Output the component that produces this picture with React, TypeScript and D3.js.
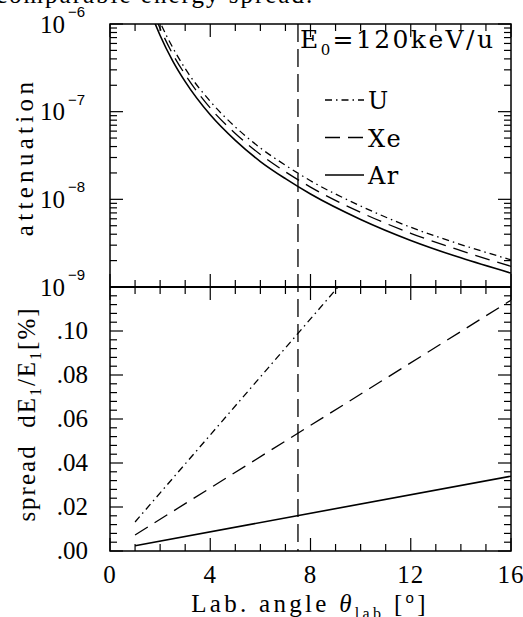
import React from "react";
import * as d3 from "d3";

// attenuation vs lab angle (upper panel, log axis)
const angleTop = [1.8, 2, 2.5, 3, 4, 5, 6, 7, 8, 10, 12, 14, 16];
const attenU = [1.43e-6, 1.05e-6, 5.4e-7, 3.1e-7, 1.31e-7, 6.7e-8, 3.85e-8, 2.45e-8, 1.63e-8, 8.4e-9, 4.8e-9, 3.05e-9, 2.04e-9];
const attenXe = [1.21e-6, 8.9e-7, 4.55e-7, 2.65e-7, 1.1e-7, 5.65e-8, 3.25e-8, 2.06e-8, 1.38e-8, 7.1e-9, 4.1e-9, 2.6e-9, 1.72e-9];
const attenAr = [1.01e-6, 7.4e-7, 3.8e-7, 2.2e-7, 9.2e-8, 4.7e-8, 2.7e-8, 1.72e-8, 1.15e-8, 5.9e-9, 3.4e-9, 2.15e-9, 1.44e-9];

// energy spread vs lab angle (lower panel)
const angleSpreadU = [1, 9.1];
const spreadU = [0.0132, 0.12];
const angleSpread = [1, 16];
const spreadXe = [0.0073, 0.114];
const spreadAr = [0.0024, 0.034];

const cutAngle = 7.5;
const xTickLabels = [0, 4, 8, 12, 16];
const decadeExponents = [-6, -7, -8, -9];
const spreadTickLabels = [0, 0.02, 0.04, 0.06, 0.08, 0.1];
const legendNames = ["U", "Xe", "Ar"];

const W = 523;
const H = 617;
const font = "'Liberation Serif', 'Times New Roman', serif";
const wideFont = "'DejaVu Serif', serif";

const dashOf: Record<string, string | undefined> = {
  U: "7,4,1.5,4",
  Xe: "15,8",
  Ar: undefined,
};

export default function App() {
  const x = d3.scaleLinear().domain([0, 16]).range([110, 511]);
  const yTop = d3.scaleLog().domain([1e-9, 1e-6]).range([287, 24]);
  const yBot = d3.scaleLinear().domain([0, 0.12]).range([551, 287]);

  const left = x(0), right = x(16);
  const top = yTop(1e-6), mid = yTop(1e-9), bottom = yBot(0);

  const lineTop = d3
    .line<[number, number]>()
    .x((d) => x(d[0]))
    .y((d) => yTop(d[1]))
    .curve(d3.curveMonotoneX);
  const lineBot = d3
    .line<[number, number]>()
    .x((d) => x(d[0]))
    .y((d) => yBot(d[1]));

  const zip = (a: number[], b: number[]) => a.map((v, i) => [v, b[i]] as [number, number]);

  const topSeries = [
    { name: "U", d: zip(angleTop, attenU) },
    { name: "Xe", d: zip(angleTop, attenXe) },
    { name: "Ar", d: zip(angleTop, attenAr) },
  ];
  const botSeries = [
    { name: "U", d: zip(angleSpreadU, spreadU) },
    { name: "Xe", d: zip(angleSpread, spreadXe) },
    { name: "Ar", d: zip(angleSpread, spreadAr) },
  ];

  const major = 13, minor = 7;
  const xTicks = x.ticks(16);
  const logTicks = yTop.ticks();
  const linTicks = d3.range(0, 31).map((i) => i * 0.004);

  const tk: JSX.Element[] = [];
  // x ticks on top, divider (both sides) and bottom
  xTicks.forEach((t, i) => {
    const len = t % 4 === 0 ? major : minor;
    const xp = x(t);
    tk.push(<line key={"xt" + i} x1={xp} x2={xp} y1={top} y2={top + len} />);
    tk.push(<line key={"xm1" + i} x1={xp} x2={xp} y1={mid} y2={mid - len} />);
    tk.push(<line key={"xm2" + i} x1={xp} x2={xp} y1={mid} y2={mid + len} />);
    tk.push(<line key={"xb" + i} x1={xp} x2={xp} y1={bottom} y2={bottom - len} />);
  });
  logTicks.forEach((t, i) => {
    const m = Math.round(t / Math.pow(10, Math.floor(Math.log10(t) + 1e-9)));
    const len = m === 1 ? major : minor;
    const yp = yTop(t);
    tk.push(<line key={"ll" + i} x1={left} x2={left + len} y1={yp} y2={yp} />);
    tk.push(<line key={"lr" + i} x1={right} x2={right - len} y1={yp} y2={yp} />);
  });
  linTicks.forEach((t, i) => {
    const len = i % 5 === 0 ? major : minor;
    const yp = yBot(t);
    tk.push(<line key={"bl" + i} x1={left} x2={left + len} y1={yp} y2={yp} />);
    tk.push(<line key={"br" + i} x1={right} x2={right - len} y1={yp} y2={yp} />);
  });

  return (
    <svg
      width={W}
      height={H}
      style={{ position: "absolute", left: 0, top: 0, background: "#fff" }}
      fontFamily={font}
    >
      <defs>
        <clipPath id="clipTop">
          <rect x={left} y={top} width={right - left} height={mid - top} />
        </clipPath>
        <clipPath id="clipBot">
          <rect x={left} y={mid} width={right - left} height={bottom - mid} />
        </clipPath>
      </defs>

      {/* cut-off caption line above the figure */}
      <text x={-4} y={3} fontSize={25} letterSpacing={2}>
        comparable energy spread.
      </text>

      {/* frame */}
      <rect x={left} y={top} width={right - left} height={bottom - top} fill="none" stroke="#000" strokeWidth={1.5} />
      <line x1={left} x2={right} y1={mid} y2={mid} stroke="#000" strokeWidth={2} />
      <g stroke="#000" strokeWidth={1.2}>{tk}</g>

      {/* curves */}
      <g clipPath="url(#clipTop)" fill="none" stroke="#000">
        {topSeries.map((s) => (
          <path key={s.name} d={lineTop(s.d) || ""} strokeWidth={s.name === "Ar" ? 1.6 : 1.3} strokeDasharray={dashOf[s.name]} />
        ))}
      </g>
      <g clipPath="url(#clipBot)" fill="none" stroke="#000">
        {botSeries.map((s) => (
          <path key={s.name} d={lineBot(s.d) || ""} strokeWidth={s.name === "Ar" ? 1.6 : 1.3} strokeDasharray={dashOf[s.name]} />
        ))}
      </g>

      {/* cut angle marker */}
      <line x1={x(cutAngle)} x2={x(cutAngle)} y1={top} y2={bottom} stroke="#000" strokeWidth={1.3} strokeDasharray="18,7" />

      {/* y tick labels, upper panel */}
      {decadeExponents.map((e) => {
        const yp = yTop(Math.pow(10, e));
        return (
          <g key={e}>
            <text x={65} y={yp + 8.5} fontSize={25} textAnchor="end">10</text>
            <text x={68} y={yp - 7} fontSize={15} fontFamily="'Liberation Sans', Arial, sans-serif">
              {"\u2212" + Math.abs(e)}
            </text>
          </g>
        );
      })}

      {/* y tick labels, lower panel */}
      {spreadTickLabels.map((v) => (
        <text key={v} x={88} y={yBot(v) + 8} fontSize={25} textAnchor="end">
          {"." + d3.format("02d")(Math.round(v * 100))}
        </text>
      ))}

      {/* x tick labels */}
      {xTickLabels.map((v) => (
        <text key={v} x={x(v)} y={583} fontSize={25} textAnchor="middle" letterSpacing={1}>
          {v}
        </text>
      ))}

      {/* axis titles */}
      <text transform="translate(33,157) rotate(-90)" fontSize={25} textAnchor="middle" letterSpacing={4.3}>
        attenuation
      </text>
      <text transform="translate(35,414) rotate(-90)" fontSize={25} textAnchor="middle" letterSpacing={2}>
        spread{"\u00a0\u00a0"}dE<tspan fontSize={16} dy={6}>1</tspan>
        <tspan dy={-6}>/E</tspan>
        <tspan fontSize={16} dy={6}>1</tspan>
        <tspan dy={-6}>[%]</tspan>
      </text>
      <text x={310} y={612} fontSize={25} textAnchor="middle" letterSpacing={3.3}>
        Lab.{"\u00a0"}angle{"\u00a0"}
        <tspan fontStyle="italic">θ</tspan>
        <tspan fontSize={16} dy={7}>lab</tspan>
        <tspan dy={-7}>{"\u00a0"}[</tspan>
        <tspan fontSize={15} dy={-9} fontFamily="'Liberation Sans', Arial, sans-serif">o</tspan>
        <tspan dy={9}>]</tspan>
      </text>

      {/* legend */}
      <text x={300} y={48} fontSize={25} fontFamily={wideFont} letterSpacing={2.4}>
        E<tspan fontSize={15} dy={7}>0</tspan>
        <tspan dy={-7}>=120keV/u</tspan>
      </text>
      {legendNames.map((n, i) => {
        const yl = 100 + i * 37.5;
        return (
          <g key={n}>
            <line x1={325} x2={364} y1={yl} y2={yl} stroke="#000" strokeWidth={n === "Ar" ? 1.6 : 1.3} strokeDasharray={dashOf[n]} />
            <text x={368} y={yl + 9} fontSize={24} fontFamily={wideFont} letterSpacing={1.5}>{n}</text>
          </g>
        );
      })}
    </svg>
  );
}
